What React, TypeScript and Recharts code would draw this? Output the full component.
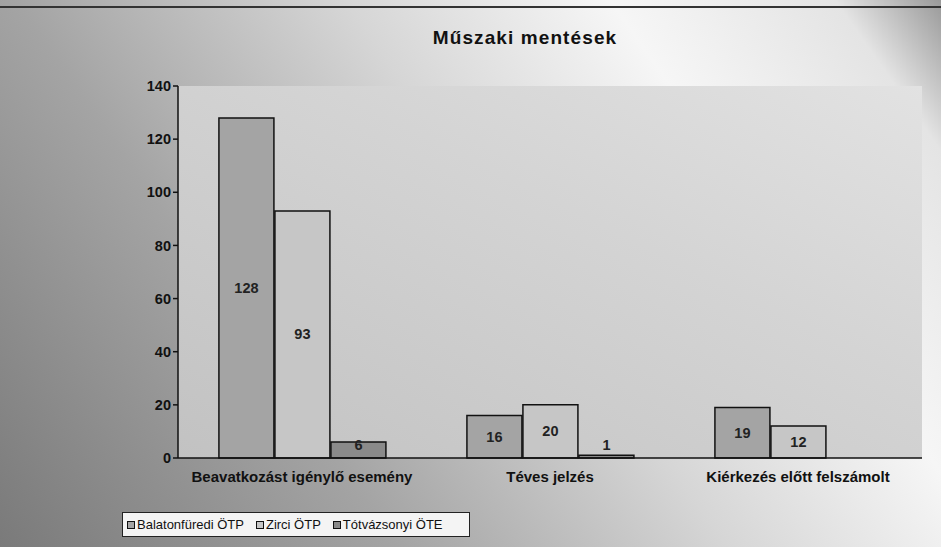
import { BarChart, Bar, XAxis, YAxis, CartesianGrid, LabelList } from "recharts";

const categories = ["Beavatkozást igénylő esemény", "Téves jelzés", "Kiérkezés előtt felszámolt"];
const balatonfuredi = [128, 16, 19];
const zirci = [93, 20, 12];
const totvazsonyi = [6, 1, 0];
const seriesNames = ["Balatonfüredi ÖTP", "Zirci ÖTP", "Tótvázsonyi ÖTE"];
const yTicks = [0, 20, 40, 60, 80, 100, 120, 140];

const colors = ["#a4a4a4", "#c6c6c6", "#8a8a8a"];

const data = categories.map((name, i) => ({
	name,
	a: balatonfuredi[i],
	b: zirci[i],
	c: totvazsonyi[i],
}));

const font = "'Liberation Sans', Arial, sans-serif";

const renderLabel = (props: any) => {
	const { x, y, width, height, value } = props;
	if (!value) return null;
	const bottom = y + height;
	const cy = Math.min(y + height / 2, bottom - 13);
	return (
		<text
			x={x + width / 2}
			y={cy}
			textAnchor="middle"
			dominantBaseline="central"
			fontFamily={font}
			fontWeight="bold"
			fontSize={14.5}
			fill="#222"
		>
			{value}
		</text>
	);
};

export default function App() {
	return (
		<div
			style={{
				position: "absolute",
				left: 0,
				top: 0,
				width: 941,
				height: 547,
				overflow: "hidden",
				background:
					"linear-gradient(55deg, #7a7a7a 0%, #a4a4a4 30%, #d6d6d6 55%, #f6f6f6 75%, #e4e4e4 92%, #9a9a9a 100%)",
				fontFamily: font,
			}}
		>
			<div style={{ position: "absolute", left: 0, top: 6, width: 941, height: 2, background: "#333" }} />
			<div
				style={{
					position: "absolute",
					left: 0,
					width: 1050,
					top: 27,
					textAlign: "center",
					fontWeight: "bold",
					fontSize: 19,
					letterSpacing: 1.1,
					color: "#111",
				}}
			>
				Műszaki mentések
			</div>
			<BarChart
				width={941}
				height={547}
				data={data}
				margin={{ top: 86, right: 19, bottom: 59, left: 118 }}
				barCategoryGap="16.5%"
				barGap={1}
				style={{ position: "absolute", left: 0, top: 0 }}
			>
				<defs>
					<linearGradient id="plotBg" x1="0" y1="1" x2="1" y2="0">
						<stop offset="0%" stopColor="#c2c2c2" />
						<stop offset="60%" stopColor="#d4d4d4" />
						<stop offset="100%" stopColor="#e2e2e2" />
					</linearGradient>
				</defs>
				<CartesianGrid horizontal={false} vertical={false} fill="url(#plotBg)" />
				<XAxis
					dataKey="name"
					axisLine={{ stroke: "#111", strokeWidth: 1.5 }}
					tickLine={false}
					height={30}
					tick={{ fontFamily: font, fontWeight: "bold", fontSize: 15, fill: "#111" }}
					tickMargin={7}
				/>
				<YAxis
					width={60}
					domain={[0, 140]}
					ticks={yTicks}
					axisLine={{ stroke: "#111", strokeWidth: 1.5 }}
					tickLine={{ stroke: "#111", strokeWidth: 1.5 }}
					tickSize={5}
					tick={{ fontFamily: font, fontWeight: "bold", fontSize: 14.5, fill: "#111" }}
				/>
				<Bar dataKey="a" name={seriesNames[0]} fill={colors[0]} stroke="#111" strokeWidth={1.5} isAnimationActive={false}>
					<LabelList dataKey="a" content={renderLabel} />
				</Bar>
				<Bar dataKey="b" name={seriesNames[1]} fill={colors[1]} stroke="#111" strokeWidth={1.5} isAnimationActive={false}>
					<LabelList dataKey="b" content={renderLabel} />
				</Bar>
				<Bar dataKey="c" name={seriesNames[2]} fill={colors[2]} stroke="#111" strokeWidth={1.5} isAnimationActive={false}>
					<LabelList dataKey="c" content={renderLabel} />
				</Bar>
			</BarChart>
			<div
				style={{
					position: "absolute",
					left: 122,
					top: 512,
					width: 348,
					height: 25,
					border: "1.5px solid #222",
					background: "#f4f4f4",
					display: "flex",
					alignItems: "center",
					gap: 12,
					paddingLeft: 4,
					boxSizing: "border-box",
					fontSize: 13,
					color: "#111",
				}}
			>
				{seriesNames.map((n, i) => (
					<span key={n} style={{ display: "flex", alignItems: "center" }}>
						<span
							style={{
								display: "inline-block",
								width: 6,
								height: 6,
								border: "1.5px solid #111",
								background: colors[i],
								marginRight: 2,
							}}
						/>
						{n}
					</span>
				))}
			</div>
		</div>
	);
}
